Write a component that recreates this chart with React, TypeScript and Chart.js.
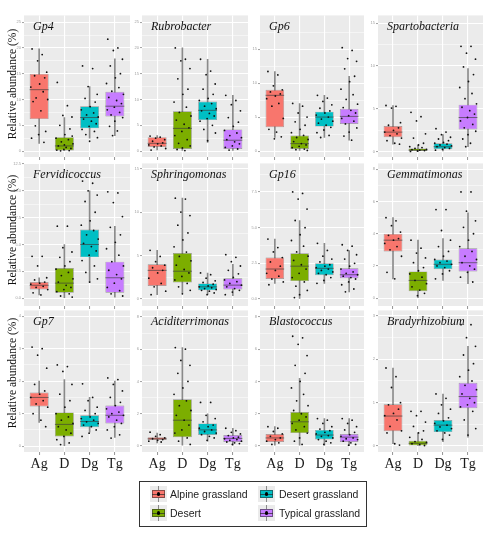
import React, { useEffect, useRef } from "react";
import { Chart, registerables } from "chart.js";

Chart.register(...registerables);

// ---------- categories ----------
const GROUPS = ["Ag", "D", "Dg", "Tg"];
const GROUP_NAMES = ["Alpine grassland", "Desert", "Desert grassland", "Typical grassland"];
const GROUP_COLORS = ["#F8766D", "#7CAE00", "#00BFC4", "#C77CFF"];
const TAXA = [
  "Gp4", "Rubrobacter", "Gp6", "Spartobacteria",
  "Fervidicoccus", "Sphringomonas", "Gp16", "Gemmatimonas",
  "Gp7", "Aciditerrimonas", "Blastococcus", "Bradyrhizobium",
];
const Y_TITLE = "Relative abundance (%)";

// ---------- box statistics: [lower whisker, Q1, median, Q3, upper whisker] for Ag, D, Dg, Tg ----------
const gp4Box = [[1.5, 6.2, 11.9, 15.0, 19.8], [0, 0, 1.0, 2.7, 6.5], [2.5, 4.4, 6.5, 8.7, 12.5], [3.0, 6.7, 8.7, 11.5, 17.9]];
const rubroBox = [[0.2, 0.8, 1.5, 2.7, 3.0], [0, 0.4, 4.4, 7.7, 20.0], [1.7, 6.0, 7.9, 9.6, 17.8], [0, 0.4, 2.1, 4.2, 10.8]];
const gp6Box = [[2.0, 3.5, 8.2, 9.0, 11.7], [0, 0.3, 1.1, 2.3, 7.0], [2.0, 3.6, 5.0, 5.8, 8.2], [1.6, 4.0, 5.1, 6.2, 11.0]];
const spartoBox = [[0.9, 1.7, 2.3, 3.0, 5.4], [0, 0.1, 0.2, 0.4, 0.8], [0.1, 0.3, 0.6, 1.0, 2.0], [0.6, 2.6, 4.0, 5.5, 9.7]];
const fervBox = [[0.3, 0.8, 1.2, 1.5, 1.9], [0, 0.5, 1.4, 2.8, 5.0], [1.5, 3.8, 5.0, 6.4, 10.0], [0.1, 0.5, 1.9, 3.4, 6.7]];
const sphrBox = [[0.5, 1.5, 3.3, 4.0, 5.6], [0.7, 1.9, 3.2, 5.3, 11.6], [0.5, 1.0, 1.4, 1.8, 3.0], [0.4, 1.1, 1.6, 2.4, 4.0]];
const gp16Box = [[1.1, 1.4, 2.1, 2.9, 4.2], [0, 1.25, 2.3, 3.2, 5.5], [1.1, 1.67, 2.15, 2.5, 3.9], [0.5, 1.46, 1.7, 2.15, 3.4]];
const gemmBox = [[1.2, 2.9, 3.6, 4.0, 5.0], [0, 0.43, 1.1, 1.66, 3.6], [1.1, 1.8, 2.1, 2.4, 3.7], [0.9, 1.66, 2.2, 3.1, 5.3]];
const gp7Box = [[0.73, 1.22, 1.5, 1.65, 2.0], [0, 0.3, 0.67, 1.04, 2.05], [0.43, 0.58, 0.76, 0.95, 1.5], [0.27, 0.7, 0.95, 1.25, 2.0]];
const acidBox = [[0.2, 0.37, 0.45, 0.55, 0.8], [0.05, 0.55, 1.6, 2.9, 6.1], [0.3, 0.68, 1.0, 1.4, 2.0], [0.05, 0.25, 0.47, 0.68, 1.1]];
const blastBox = [[0.05, 0.25, 0.5, 0.74, 1.2], [0.05, 0.8, 1.5, 2.1, 4.2], [0.05, 0.4, 0.68, 1.0, 1.7], [0, 0.25, 0.55, 0.74, 1.7]];
const bradyBox = [[0.05, 0.34, 0.69, 0.96, 1.8], [0, 0, 0.06, 0.12, 0.3], [0.1, 0.32, 0.48, 0.6, 1.2], [0.2, 0.87, 1.14, 1.46, 2.3]];

// ---------- sample points for Ag, D, Dg, Tg ----------
const gp4Pts = [
  [19.8, 18.7, 17.5, 15.3, 14.6, 14.2, 13.0, 12.4, 11.5, 10.3, 10.0, 9.6, 7.8, 3.8, 3.2, 2.5, 1.7, 4.9],
  [13.3, 8.8, 6.9, 6.6, 5.0, 4.3, 3.2, 2.5, 2.2, 1.8, 1.4, 1.0, 0.7, 0.5, 0.3, 0.2, 0.1, 0.05, 2.9, 1.2],
  [16.5, 16.0, 12.5, 11.0, 10.2, 9.5, 8.6, 8.0, 7.4, 7.0, 6.6, 6.2, 5.8, 5.3, 4.8, 4.2, 3.8, 3.2, 2.6, 1.9],
  [21.7, 20.0, 19.5, 17.8, 16.5, 15.0, 14.2, 13.1, 12.3, 11.6, 11.0, 10.4, 9.8, 9.2, 8.5, 8.0, 7.5, 7.0, 6.5, 5.8, 4.8, 3.9, 3.0],
];
const rubroPts = [
  [2.9, 2.7, 2.5, 2.2, 1.9, 1.6, 1.4, 1.2, 1.0, 0.8, 0.5, 0.2],
  [20.0, 17.8, 17.5, 16.0, 14.0, 12.0, 11.0, 9.5, 8.5, 7.5, 6.8, 6.0, 5.2, 4.5, 3.8, 3.0, 2.2, 1.5, 1.0, 0.6, 0.3, 0.1],
  [17.8, 15.5, 14.8, 13.0, 12.0, 11.0, 10.2, 9.8, 9.2, 8.7, 8.2, 7.8, 7.3, 6.8, 6.3, 5.8, 5.0, 4.2, 3.5, 2.0],
  [10.8, 9.8, 9.0, 7.8, 6.5, 5.6, 4.8, 4.0, 3.5, 3.0, 2.6, 2.2, 1.8, 1.4, 1.0, 0.7, 0.4, 0.2],
];
const gp6Pts = [
  [11.7, 11.2, 9.6, 9.0, 8.7, 8.4, 8.1, 7.7, 7.0, 6.6, 4.8, 3.2, 2.8, 2.1, 1.8],
  [7.0, 6.6, 5.6, 5.0, 4.3, 3.8, 3.2, 2.7, 2.3, 2.0, 1.7, 1.4, 1.1, 0.9, 0.7, 0.5, 0.3, 0.2, 0.1],
  [8.2, 7.8, 7.3, 6.8, 6.3, 5.9, 5.6, 5.3, 5.0, 4.7, 4.4, 4.1, 3.8, 3.5, 3.1, 2.7, 2.3, 2.0],
  [15.2, 14.8, 13.6, 13.2, 12.1, 11.0, 10.2, 9.1, 8.3, 7.6, 6.9, 6.4, 6.0, 5.6, 5.2, 4.8, 4.4, 4.0, 3.4, 2.8, 2.2, 1.6],
];
const spartoPts = [
  [5.4, 5.3, 5.1, 3.4, 3.1, 2.8, 2.5, 2.3, 2.1, 1.9, 1.6, 1.3, 1.0, 0.9],
  [4.6, 4.1, 3.6, 2.1, 1.6, 1.0, 0.8, 0.6, 0.5, 0.4, 0.3, 0.25, 0.2, 0.15, 0.1, 0.05],
  [2.7, 2.3, 2.0, 1.7, 1.5, 1.3, 1.1, 1.0, 0.9, 0.8, 0.7, 0.6, 0.5, 0.4, 0.3, 0.2],
  [12.3, 12.3, 11.5, 10.8, 9.9, 9.0, 8.2, 7.5, 6.8, 6.2, 5.6, 5.2, 4.8, 4.4, 4.0, 3.6, 3.2, 2.8, 2.4, 2.0, 1.5, 1.0, 0.6],
];
const fervPts = [
  [3.9, 3.9, 3.0, 1.9, 1.7, 1.5, 1.4, 1.3, 1.1, 1.0, 0.8, 0.5, 0.3],
  [6.7, 6.7, 4.7, 4.3, 3.8, 3.4, 3.0, 2.7, 2.4, 2.1, 1.8, 1.5, 1.2, 1.0, 0.8, 0.6, 0.4, 0.2, 0.1],
  [10.9, 10.7, 10.0, 9.6, 9.0, 8.0, 7.2, 6.8, 6.3, 5.9, 5.5, 5.1, 4.8, 4.4, 4.0, 3.5, 3.0, 2.4, 1.8, 1.5],
  [9.9, 9.8, 8.9, 7.6, 6.6, 5.9, 5.2, 4.6, 4.0, 3.4, 3.0, 2.6, 2.2, 1.8, 1.4, 1.0, 0.7, 0.4, 0.2],
];
const sphrPts = [
  [5.6, 4.9, 4.3, 3.9, 3.6, 3.3, 3.0, 2.4, 1.8, 1.4, 0.9, 0.5],
  [11.6, 11.5, 10.0, 9.6, 8.5, 7.6, 6.8, 6.0, 5.4, 4.9, 4.4, 3.9, 3.4, 3.0, 2.6, 2.2, 1.8, 1.4, 1.0, 0.6],
  [3.0, 2.8, 2.4, 2.1, 1.9, 1.7, 1.5, 1.4, 1.3, 1.2, 1.1, 1.0, 0.9, 0.7, 0.5],
  [5.1, 4.8, 4.3, 3.8, 3.3, 2.9, 2.5, 2.2, 2.0, 1.8, 1.6, 1.4, 1.2, 1.0, 0.8, 0.5],
];
const gp16Pts = [
  [4.2, 3.6, 3.3, 2.9, 2.6, 2.3, 2.0, 1.8, 1.6, 1.4, 1.2, 1.0],
  [7.5, 7.4, 7.0, 6.3, 5.5, 5.0, 4.5, 4.1, 3.7, 3.3, 3.0, 2.7, 2.4, 2.1, 1.8, 1.5, 1.2, 0.9, 0.6, 0.3, 0.1],
  [3.9, 3.4, 3.0, 2.8, 2.6, 2.4, 2.3, 2.2, 2.1, 2.0, 1.9, 1.8, 1.7, 1.5, 1.3, 1.1],
  [3.8, 3.7, 3.4, 3.1, 2.8, 2.5, 2.3, 2.1, 1.9, 1.8, 1.7, 1.6, 1.5, 1.4, 1.2, 1.0, 0.7, 0.5],
];
const gemmPts = [
  [5.0, 4.8, 4.5, 4.1, 3.9, 3.7, 3.6, 3.4, 3.2, 3.0, 2.6, 1.6, 1.2],
  [3.6, 3.1, 2.8, 2.5, 2.2, 1.9, 1.7, 1.5, 1.3, 1.1, 0.9, 0.7, 0.5, 0.3, 0.15],
  [5.5, 5.5, 4.2, 3.6, 3.2, 2.9, 2.6, 2.4, 2.3, 2.2, 2.1, 2.0, 1.9, 1.7, 1.5, 1.2],
  [6.6, 6.6, 5.4, 4.8, 4.4, 4.0, 3.6, 3.2, 2.9, 2.6, 2.4, 2.2, 2.0, 1.8, 1.6, 1.3, 1.0],
];
const gp7Pts = [
  [3.05, 3.0, 2.8, 2.4, 1.9, 1.7, 1.6, 1.5, 1.4, 1.3, 1.2, 1.0, 0.8, 0.6],
  [2.5, 2.45, 2.3, 1.9, 1.6, 1.4, 1.2, 1.0, 0.9, 0.8, 0.7, 0.6, 0.5, 0.4, 0.3, 0.2, 0.1, 0.05],
  [1.92, 1.5, 1.4, 1.2, 1.1, 1.0, 0.9, 0.85, 0.8, 0.75, 0.7, 0.65, 0.6, 0.5, 0.4, 0.3],
  [2.1, 2.05, 1.9, 1.7, 1.5, 1.35, 1.25, 1.15, 1.05, 1.0, 0.95, 0.9, 0.8, 0.7, 0.6, 0.5, 0.35, 0.25],
];
const acidPts = [
  [0.86, 0.7, 0.6, 0.5, 0.45, 0.4, 0.35, 0.3, 0.25],
  [6.1, 6.0, 5.3, 5.0, 4.5, 4.0, 3.6, 3.2, 2.8, 2.5, 2.2, 1.9, 1.6, 1.3, 1.0, 0.8, 0.5, 0.3, 0.1],
  [2.7, 2.7, 1.9, 1.7, 1.5, 1.3, 1.2, 1.1, 1.0, 0.9, 0.8, 0.7, 0.6, 0.5, 0.35],
  [1.1, 0.95, 0.85, 0.75, 0.65, 0.55, 0.5, 0.45, 0.4, 0.35, 0.3, 0.25, 0.2, 0.15, 0.1],
];
const blastPts = [
  [1.2, 1.1, 0.9, 0.75, 0.6, 0.5, 0.4, 0.3, 0.2, 0.1],
  [6.8, 6.7, 6.3, 5.6, 5.0, 4.5, 4.0, 3.6, 3.2, 2.8, 2.5, 2.2, 2.0, 1.8, 1.6, 1.4, 1.2, 1.0, 0.8, 0.5, 0.3, 0.1],
  [1.7, 1.6, 1.4, 1.2, 1.05, 0.95, 0.85, 0.75, 0.65, 0.6, 0.5, 0.4, 0.3, 0.2, 0.1],
  [1.7, 1.6, 1.4, 1.2, 1.0, 0.85, 0.7, 0.6, 0.5, 0.45, 0.4, 0.3, 0.2, 0.1, 0.05],
];
const bradyPts = [
  [1.8, 1.6, 1.35, 1.0, 0.95, 0.85, 0.75, 0.7, 0.6, 0.45, 0.35, 0.3, 0.05, 0.02],
  [0.8, 0.8, 0.7, 0.55, 0.45, 0.35, 0.3, 0.2, 0.15, 0.1, 0.08, 0.05, 0.03, 0.01],
  [1.2, 1.1, 0.95, 0.85, 0.75, 0.65, 0.58, 0.52, 0.48, 0.44, 0.4, 0.35, 0.3, 0.25, 0.15],
  [2.8, 2.8, 2.5, 2.3, 2.1, 1.9, 1.75, 1.6, 1.5, 1.4, 1.3, 1.2, 1.1, 1.0, 0.95, 0.9, 0.8, 0.6, 0.4, 0.25],
];

// ---------- y tick labels ----------
const ticks0to25 = ["0", "5", "10", "15", "20", "25"];
const ticks0to15 = ["0", "5", "10", "15"];
const ticksFerv = ["0.0", "2.5", "5.0", "7.5", "10.0", "12.5"];
const ticksGp16 = ["0.0", "2.5", "5.0", "7.5"];
const ticks0to8 = ["0", "2", "4", "6", "8"];
const ticks0to4 = ["0", "1", "2", "3", "4"];
const ticks0to3 = ["0", "1", "2", "3"];

// ---------- layout ----------
const COLS = [[24, 130], [142, 248], [260, 364], [378, 483]];
const ROWS = [[14, 157], [162, 306], [309, 452]];
const Y_TITLE_CENTERS = [84, 230, 373];
const Y_AXIS_W = 14;
const PAD_TOP = 2;
const PAD_RIGHT = 2;
const JITTER = [-0.28, 0.12, -0.06, 0.3, -0.18, 0.22, 0.02, -0.33, 0.16, -0.12, 0.34, -0.24, 0.07, 0.26, -0.02, -0.3, 0.19, -0.15, 0.31, 0.0, -0.21, 0.1, -0.09];

const PANELS = [
  { box: gp4Box, pts: gp4Pts, ticks: ticks0to25, lim: [-1.15, 26.3] },
  { box: rubroBox, pts: rubroPts, ticks: ticks0to25, lim: [-1.15, 26.3] },
  { box: gp6Box, pts: gp6Pts, ticks: ticks0to15, lim: [-0.87, 19.95] },
  { box: spartoBox, pts: spartoPts, ticks: ticks0to15, lim: [-0.6, 15.9] },
  { box: fervBox, pts: fervPts, ticks: ticksFerv, lim: [-0.73, 12.55] },
  { box: sphrBox, pts: sphrPts, ticks: ticks0to15, lim: [-0.8, 15.6] },
  { box: gp16Box, pts: gp16Pts, ticks: ticksGp16, lim: [-0.49, 9.5] },
  { box: gemmBox, pts: gemmPts, ticks: ticks0to8, lim: [-0.49, 8.37] },
  { box: gp7Box, pts: gp7Pts, ticks: ticks0to4, lim: [-0.18, 4.18] },
  { box: acidBox, pts: acidPts, ticks: ticks0to8, lim: [-0.37, 8.4] },
  { box: blastBox, pts: blastPts, ticks: ticks0to8, lim: [-0.37, 8.4] },
  { box: bradyBox, pts: bradyPts, ticks: ticks0to3, lim: [-0.14, 3.13] },
];

const decoPlugin = {
  id: "panelDeco",
  beforeDraw(chart: any) {
    const { ctx, chartArea: a } = chart;
    ctx.save();
    ctx.fillStyle = "#EBEBEB";
    ctx.fillRect(a.left, a.top, a.right - a.left, a.bottom - a.top);
    ctx.restore();
  },
  afterDraw(chart: any) {
    const { ctx, chartArea: a } = chart;
    const name = chart.options.plugins.panelDeco?.title || "";
    ctx.save();
    ctx.font = 'italic 12px "Liberation Serif", "DejaVu Serif", serif';
    ctx.fillStyle = "#111";
    ctx.textBaseline = "alphabetic";
    ctx.fillText(name, a.left + 9, a.top + 14.5);
    ctx.restore();
  },
};

function Panel({ index }: { index: number }) {
  const ref = useRef<HTMLCanvasElement | null>(null);
  const row = Math.floor(index / 4);
  const col = index % 4;
  const isBottom = row === 2;
  const xAxisH = isBottom ? 22 : 5;
  const [pl, pr] = COLS[col];
  const [pt, pb] = ROWS[row];
  const width = pr - pl + Y_AXIS_W + PAD_RIGHT;
  const height = pb - pt + PAD_TOP + xAxisH;

  useEffect(() => {
    const p = PANELS[index];
    const major = p.ticks.map(Number);
    const step = major[1] - major[0];
    const all: number[] = [];
    for (let i = 0; i < major.length; i++) {
      all.push(major[i]);
      const mid = major[i] + step / 2;
      if (mid < p.lim[1]) all.push(mid);
    }
    const isMajor = (v: number) => major.some((m) => Math.abs(m - v) < 1e-9);
    const labelOf = (v: number) => {
      const k = major.findIndex((m) => Math.abs(m - v) < 1e-9);
      return k >= 0 ? p.ticks[k] : "";
    };

    const whiskers = p.box.map((s, i) => ({ x: i + 1, y: [s[0], s[4]] }));
    const boxes = p.box.map((s, i) => ({ x: i + 1, y: [s[1], s[3]] }));
    const medians = p.box.map((s, i) => ({ x: i + 1, y: s[2] }));
    const points = p.pts.flatMap((arr, i) =>
      arr.map((v, j) => ({ x: i + 1 + JITTER[j % JITTER.length], y: v }))
    );

    const chart = new Chart(ref.current as HTMLCanvasElement, {
      type: "bar",
      data: {
        datasets: [
          {
            type: "bar",
            data: whiskers as any,
            backgroundColor: "#8a8a8a",
            maxBarThickness: 1,
            grouped: false,
            categoryPercentage: 1,
            barPercentage: 1,
            order: 4,
          } as any,
          {
            type: "bar",
            data: boxes as any,
            backgroundColor: GROUP_COLORS,
            borderColor: "rgba(40,40,40,0.45)",
            borderWidth: 0.7,
            borderSkipped: false,
            grouped: false,
            categoryPercentage: 1,
            barPercentage: 0.75,
            order: 3,
          } as any,
          {
            type: "scatter",
            data: medians as any,
            pointStyle: "line",
            pointRadius: (c: any) => {
              const xs = c.chart.scales.x;
              return Math.abs(xs.getPixelForValue(1.375) - xs.getPixelForValue(1));
            },
            pointBorderColor: "rgba(60,60,60,0.65)",
            pointBorderWidth: 1,
            order: 2,
          } as any,
          {
            type: "scatter",
            data: points as any,
            pointRadius: 0.9,
            pointBackgroundColor: "#111",
            pointBorderWidth: 0,
            order: 1,
          } as any,
        ],
      },
      options: {
        animation: false,
        responsive: false,
        events: [],
        layout: { autoPadding: false, padding: { top: PAD_TOP, right: PAD_RIGHT, left: 0, bottom: 0 } } as any,
        plugins: {
          legend: { display: false },
          tooltip: { enabled: false },
          panelDeco: { title: TAXA[index] },
        } as any,
        scales: {
          x: {
            type: "linear",
            min: 0.4,
            max: 4.6,
            offset: false,
            afterBuildTicks: (s: any) => {
              s.ticks = GROUPS.map((_, i) => ({ value: i + 1 }));
            },
            afterFit: (s: any) => {
              s.height = xAxisH;
            },
            ticks: {
              display: isBottom,
              autoSkip: false,
              maxRotation: 0,
              padding: 1,
              color: "#1a1a1a",
              font: { family: '"Liberation Serif", "DejaVu Serif", serif', size: 14 },
              callback: (v: any) => GROUPS[Math.round(Number(v)) - 1] || "",
            },
            grid: { offset: false, color: "#ffffff", lineWidth: 1.1, tickLength: 3, tickColor: "#7a7a7a", tickWidth: 0.8 } as any,
            border: { display: false },
          },
          y: {
            type: "linear",
            min: p.lim[0],
            max: p.lim[1],
            afterBuildTicks: (s: any) => {
              s.ticks = all.map((v) => ({ value: v }));
            },
            afterFit: (s: any) => {
              s.width = Y_AXIS_W;
            },
            ticks: {
              autoSkip: false,
              padding: 1,
              color: "#a0a0a0",
              font: { family: '"Liberation Sans", Arial, sans-serif', size: 4 },
              callback: (v: any) => labelOf(Number(v)),
            },
            grid: {
              color: "#ffffff",
              lineWidth: (c: any) => (c.tick && isMajor(c.tick.value) ? 1.1 : 0.5),
              tickLength: 2,
              tickWidth: 0.8,
              tickColor: (c: any) => (c.tick && isMajor(c.tick.value) ? "#8a8a8a" : "rgba(0,0,0,0)"),
            } as any,
            border: { display: false },
          },
        },
      } as any,
      plugins: [decoPlugin],
    });
    return () => chart.destroy();
  }, [index]);

  return (
    <canvas
      ref={ref}
      width={width}
      height={height}
      style={{
        position: "absolute",
        left: pl - Y_AXIS_W,
        top: pt - PAD_TOP,
        width,
        height,
      }}
    />
  );
}

function LegendKey({ color, left, top }: { color: string; left: number; top: number }) {
  return (
    <div style={{ position: "absolute", left, top, width: 17, height: 16, background: "#EBEBEB" }}>
      <div style={{ position: "absolute", left: 8, top: 0, width: 1, height: 16, background: "#8a8a8a" }} />
      <div
        style={{
          position: "absolute",
          left: 2,
          top: 4,
          width: 13,
          height: 8,
          background: color,
          border: "0.7px solid rgba(40,40,40,0.55)",
          boxSizing: "border-box",
        }}
      />
      <div style={{ position: "absolute", left: 2, top: 7.5, width: 13, height: 1, background: "rgba(40,40,40,0.7)" }} />
      <div style={{ position: "absolute", left: 6.8, top: 6.3, width: 3.4, height: 3.4, borderRadius: "50%", background: "#000" }} />
    </div>
  );
}

export default function App() {
  const legendPos = [
    { key: [150, 486], text: [170, 494] },
    { key: [150, 505], text: [170, 513] },
    { key: [258, 486], text: [279, 494] },
    { key: [258, 505], text: [279, 513] },
  ];
  return (
    <div style={{ position: "absolute", left: 0, top: 0, width: 500, height: 534, background: "#ffffff", overflow: "hidden" }}>
      {TAXA.map((_, i) => (
        <Panel key={i} index={i} />
      ))}
      {Y_TITLE_CENTERS.map((cy, i) => (
        <div
          key={"yt" + i}
          style={{
            position: "absolute",
            left: 12,
            top: cy,
            transform: "translate(-50%, -50%) rotate(-90deg)",
            whiteSpace: "nowrap",
            font: '11.5px "Liberation Serif", "DejaVu Serif", serif',
            color: "#111",
          }}
        >
          {Y_TITLE}
        </div>
      ))}
      <div
        style={{
          position: "absolute",
          left: 139,
          top: 481,
          width: 228,
          height: 46,
          border: "1.2px solid #333",
          boxSizing: "border-box",
        }}
      />
      {GROUP_NAMES.map((name, i) => (
        <React.Fragment key={"lg" + i}>
          <LegendKey color={GROUP_COLORS[i]} left={legendPos[i].key[0]} top={legendPos[i].key[1]} />
          <div
            style={{
              position: "absolute",
              left: legendPos[i].text[0],
              top: legendPos[i].text[1],
              transform: "translateY(-50%)",
              whiteSpace: "nowrap",
              font: '10.5px "Liberation Sans", Arial, sans-serif',
              color: "#222",
              lineHeight: "12px",
            }}
          >
            {name}
          </div>
        </React.Fragment>
      ))}
    </div>
  );
}
